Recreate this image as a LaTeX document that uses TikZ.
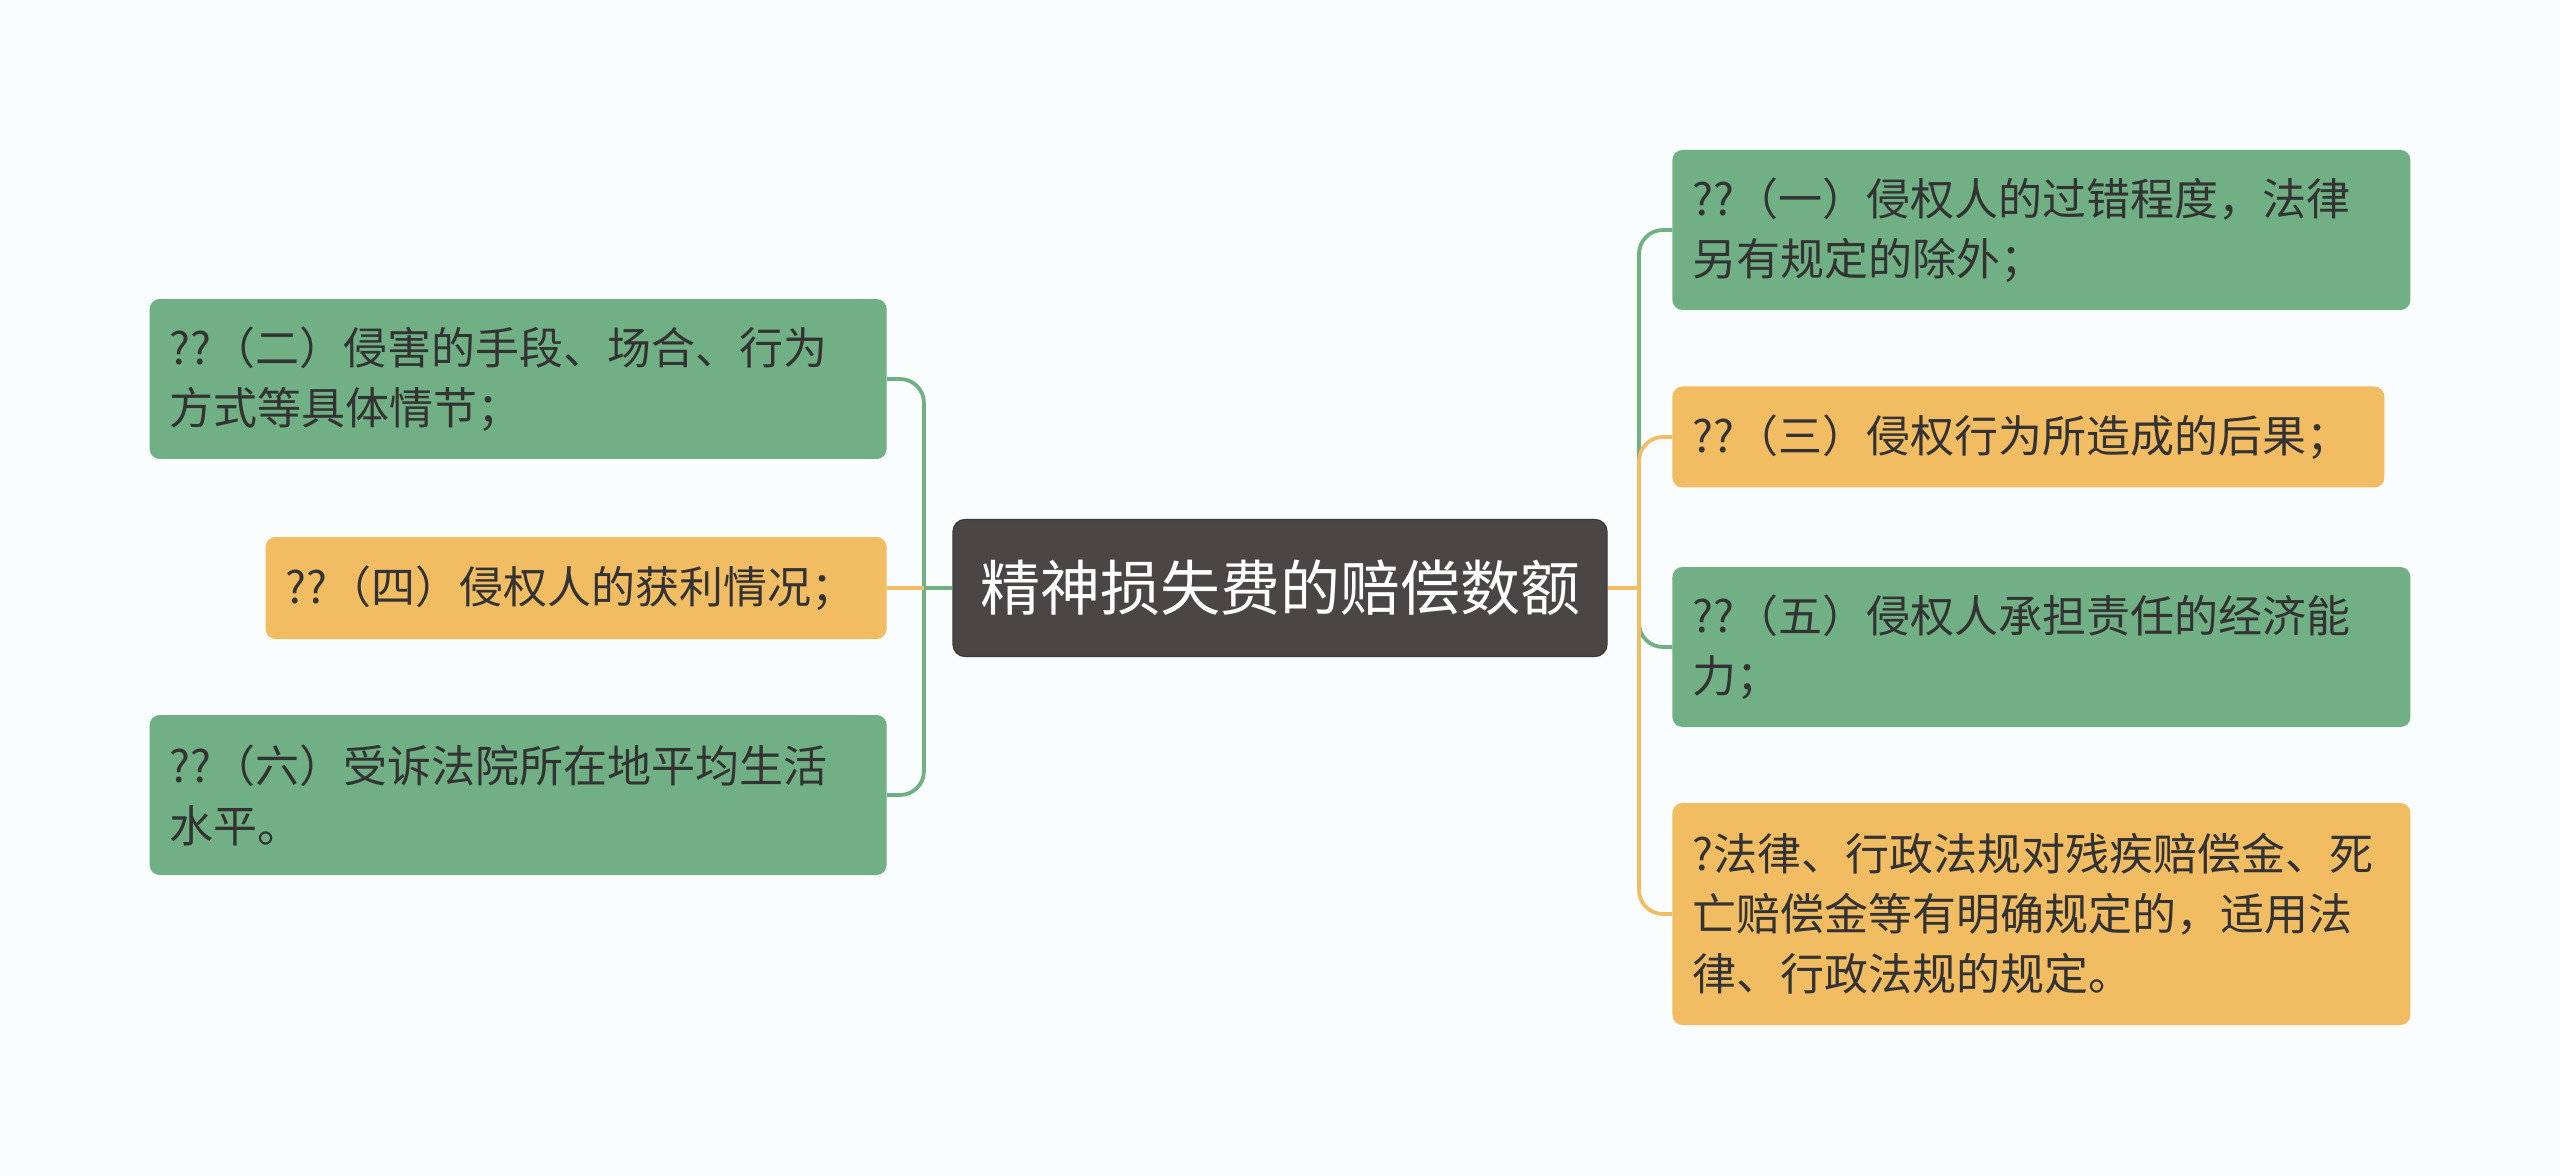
\documentclass[tikz,border=0pt]{standalone}
\usepackage{fontspec}
\newfontfamily\cjk{Noto Sans CJK SC}
\definecolor{bgc}{HTML}{F9FDFD}
\definecolor{leafgreen}{HTML}{70B084}
\definecolor{leaforange}{HTML}{F1BC62}
\definecolor{hubgray}{HTML}{4B4646}
\definecolor{leaftext}{HTML}{333333}
\tikzset{
	hub/.style={fill=hubgray, draw=hubgray!80!black, line width=0.6pt, rounded corners=6pt, text=white, minimum width=327pt, minimum height=68.5pt, font=\cjk\fontsize{30}{36}\selectfont},
	leaf/.style={rounded corners=5pt, inner xsep=10pt, inner ysep=0pt, align=left, text=leaftext, font=\cjk\fontsize{22}{30}\selectfont},
	gleaf/.style={leaf, fill=leafgreen},
	oleaf/.style={leaf, fill=leaforange},
	gline/.style={draw=leafgreen, line width=1.9pt, rounded corners=12pt},
	oline/.style={draw=leaforange, line width=1.9pt, rounded corners=12pt},
}
\begin{document}
\begin{tikzpicture}[x=0.5pt, y=-0.5pt]
	\fill [bgc] (0,0) rectangle (2560,1176);
	\node [hub] (hub) at (1280,588) {精神损失费的赔偿数额};
	% left side
	\node [gleaf, anchor=east, text width=348.5pt, minimum height=80pt] (l1) at (887,379) {??（二）侵害的手段、场合、行为\\方式等具体情节；};
	\node [oleaf, anchor=east, text width=290.5pt, minimum height=51pt] (l2) at (887,588) {??（四）侵权人的获利情况；};
	\node [gleaf, anchor=east, text width=348.5pt, minimum height=80pt] (l3) at (887,795) {??（六）受诉法院所在地平均生活\\水平。};
	% right side
	\node [gleaf, anchor=west, text width=349pt, minimum height=80pt] (r1) at (1672,230) {??（一）侵权人的过错程度，法律\\另有规定的除外；};
	\node [oleaf, anchor=west, text width=336pt, minimum height=50.5pt] (r2) at (1672,437) {??（三）侵权行为所造成的后果；};
	\node [gleaf, anchor=west, text width=349pt, minimum height=80pt] (r3) at (1672,647) {??（五）侵权人承担责任的经济能\\力；};
	\node [oleaf, anchor=west, text width=349pt, minimum height=111pt] (r4) at (1672,914) {?法律、行政法规对残疾赔偿金、死\\亡赔偿金等有明确规定的，适用法\\律、行政法规的规定。};
	% connectors
	\coordinate (lj) at (924,588);
	\coordinate (rj) at (1639,588);
	\draw [gline] (hub.west) -- (lj);
	\foreach \n in {l1, l3}
		\draw [gline] (lj) |- (\n.east);
	\draw [oline] (lj) -- (l2.east);
	\foreach \n/\c in {r1/gline, r3/gline, r2/oline, r4/oline}
		\draw [\c] (rj) |- (\n.west);
	\draw [oline] (hub.east) -- (rj);
\end{tikzpicture}
\end{document}
